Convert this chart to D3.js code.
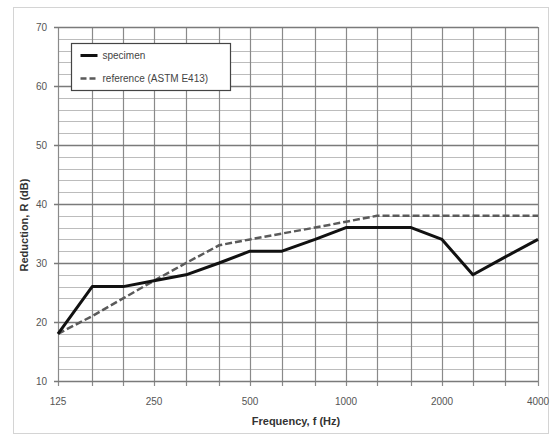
<!DOCTYPE html>
<html>
<head>
<meta charset="utf-8">
<script src="https://cdn.jsdelivr.net/npm/d3@7"></script>
<style>
  body { margin: 0; background: #fff; }
  text { font-family: "Liberation Sans", "DejaVu Sans", sans-serif; }
</style>
</head>
<body>
<div id="container"></div>
<script>
const width = 552,
      height = 438,
      margin = { top: 27, bottom: 57, left: 58, right: 14 };

// one-third octave bands, 125 .. 4000 Hz
const bands = [125, 160, 200, 250, 315, 400, 500, 630, 800, 1000, 1250, 1600, 2000, 2500, 3150, 4000];
const specimen = [18, 26, 26, 27, 28, 30, 32, 32, 34, 36, 36, 36, 34, 28, 31, 34];
const reference = [18, 21, 24, 27, 30, 33, 34, 35, 36, 37, 38, 38, 38, 38, 38, 38];
const xTickLabels = [125, 250, 500, 1000, 2000, 4000];
const yTickLabels = [10, 20, 30, 40, 50, 60, 70];

var svg = d3.select("#container").append("svg")
    .attr("width", width)
    .attr("height", height);

// chart frame
svg.append("rect")
    .attr("x", 13.5).attr("y", 7.5)
    .attr("width", 535).attr("height", 426)
    .attr("fill", "#fff")
    .attr("stroke", "#d4d4d4");

var x = d3.scaleLog()
    .domain([125, 4000])
    .range([margin.left, width - margin.right]);

var y = d3.scaleLinear()
    .domain([10, 70])
    .range([height - margin.bottom, margin.top]);

// minor horizontal grid every 2 dB
svg.append("g")
    .selectAll("line")
    .data(d3.range(12, 70, 2).filter(v => v % 10 !== 0))
    .enter().append("line")
    .attr("x1", x(125)).attr("x2", x(4000))
    .attr("y1", d => Math.round(y(d)) + 0.5)
    .attr("y2", d => Math.round(y(d)) + 0.5)
    .attr("stroke", "#bcbcbc")
    .attr("stroke-width", 1);

// vertical grid at each band, with small ticks below the axis
svg.append("g")
    .selectAll("line")
    .data(bands)
    .enter().append("line")
    .attr("x1", d => Math.round(x(d)) + 0.5)
    .attr("x2", d => Math.round(x(d)) + 0.5)
    .attr("y1", y(70))
    .attr("y2", y(10) + 5)
    .attr("stroke", "#8a8a8a")
    .attr("stroke-width", 1.2);

// major horizontal grid every 10 dB
svg.append("g")
    .selectAll("line")
    .data(yTickLabels)
    .enter().append("line")
    .attr("x1", x(125) - 4).attr("x2", x(4000))
    .attr("y1", d => Math.round(y(d)) + 0.5)
    .attr("y2", d => Math.round(y(d)) + 0.5)
    .attr("stroke", "#7a7a7a")
    .attr("stroke-width", 1.5);

// y tick labels
svg.append("g")
    .selectAll("text")
    .data(yTickLabels)
    .enter().append("text")
    .attr("x", x(125) - 11)
    .attr("y", d => y(d) + 3.5)
    .attr("text-anchor", "end")
    .attr("font-size", 10)
    .attr("fill", "#555")
    .text(d => d);

// x tick labels
svg.append("g")
    .selectAll("text")
    .data(xTickLabels)
    .enter().append("text")
    .attr("x", d => x(d))
    .attr("y", y(10) + 24)
    .attr("text-anchor", "middle")
    .attr("font-size", 10)
    .attr("fill", "#555")
    .text(d => d);

// axis titles
svg.append("text")
    .attr("x", 296).attr("y", 425)
    .attr("text-anchor", "middle")
    .attr("font-size", 11)
    .attr("font-weight", "bold")
    .attr("fill", "#333")
    .text("Frequency, f (Hz)");

svg.append("text")
    .attr("transform", `translate(${28}, ${225}) rotate(-90)`)
    .attr("text-anchor", "middle")
    .attr("font-size", 11)
    .attr("font-weight", "bold")
    .attr("fill", "#333")
    .text("Reduction, R (dB)");

var line = d3.line()
    .x(d => x(d[0]))
    .y(d => y(d[1]));

svg.append("path")
    .datum(bands.map((f, i) => [f, reference[i]]))
    .attr("d", line)
    .attr("fill", "none")
    .attr("stroke", "#5a5a5a")
    .attr("stroke-width", 2.5)
    .attr("stroke-dasharray", "7,3");

svg.append("path")
    .datum(bands.map((f, i) => [f, specimen[i]]))
    .attr("d", line)
    .attr("fill", "none")
    .attr("stroke", "#111")
    .attr("stroke-width", 3)
    .attr("stroke-linejoin", "round");

// legend
var legend = svg.append("g").attr("transform", "translate(71.5, 43.5)");
legend.append("rect")
    .attr("width", 159).attr("height", 47)
    .attr("fill", "#fff")
    .attr("stroke", "#444")
    .attr("stroke-width", 1.2);

var items = [
    { label: "specimen", stroke: "#111", dash: null, w: 3 },
    { label: "reference (ASTM E413)", stroke: "#5a5a5a", dash: "6,3", w: 2.5 }
];
items.forEach(function (it, i) {
    var cy = 12 + i * 23;
    legend.append("line")
        .attr("x1", 9).attr("x2", 26)
        .attr("y1", cy).attr("y2", cy)
        .attr("stroke", it.stroke)
        .attr("stroke-width", it.w)
        .attr("stroke-dasharray", it.dash);
    legend.append("text")
        .attr("x", 31).attr("y", cy + 3.5)
        .attr("font-size", 10)
        .attr("fill", "#444")
        .text(it.label);
});
</script>
</body>
</html>
